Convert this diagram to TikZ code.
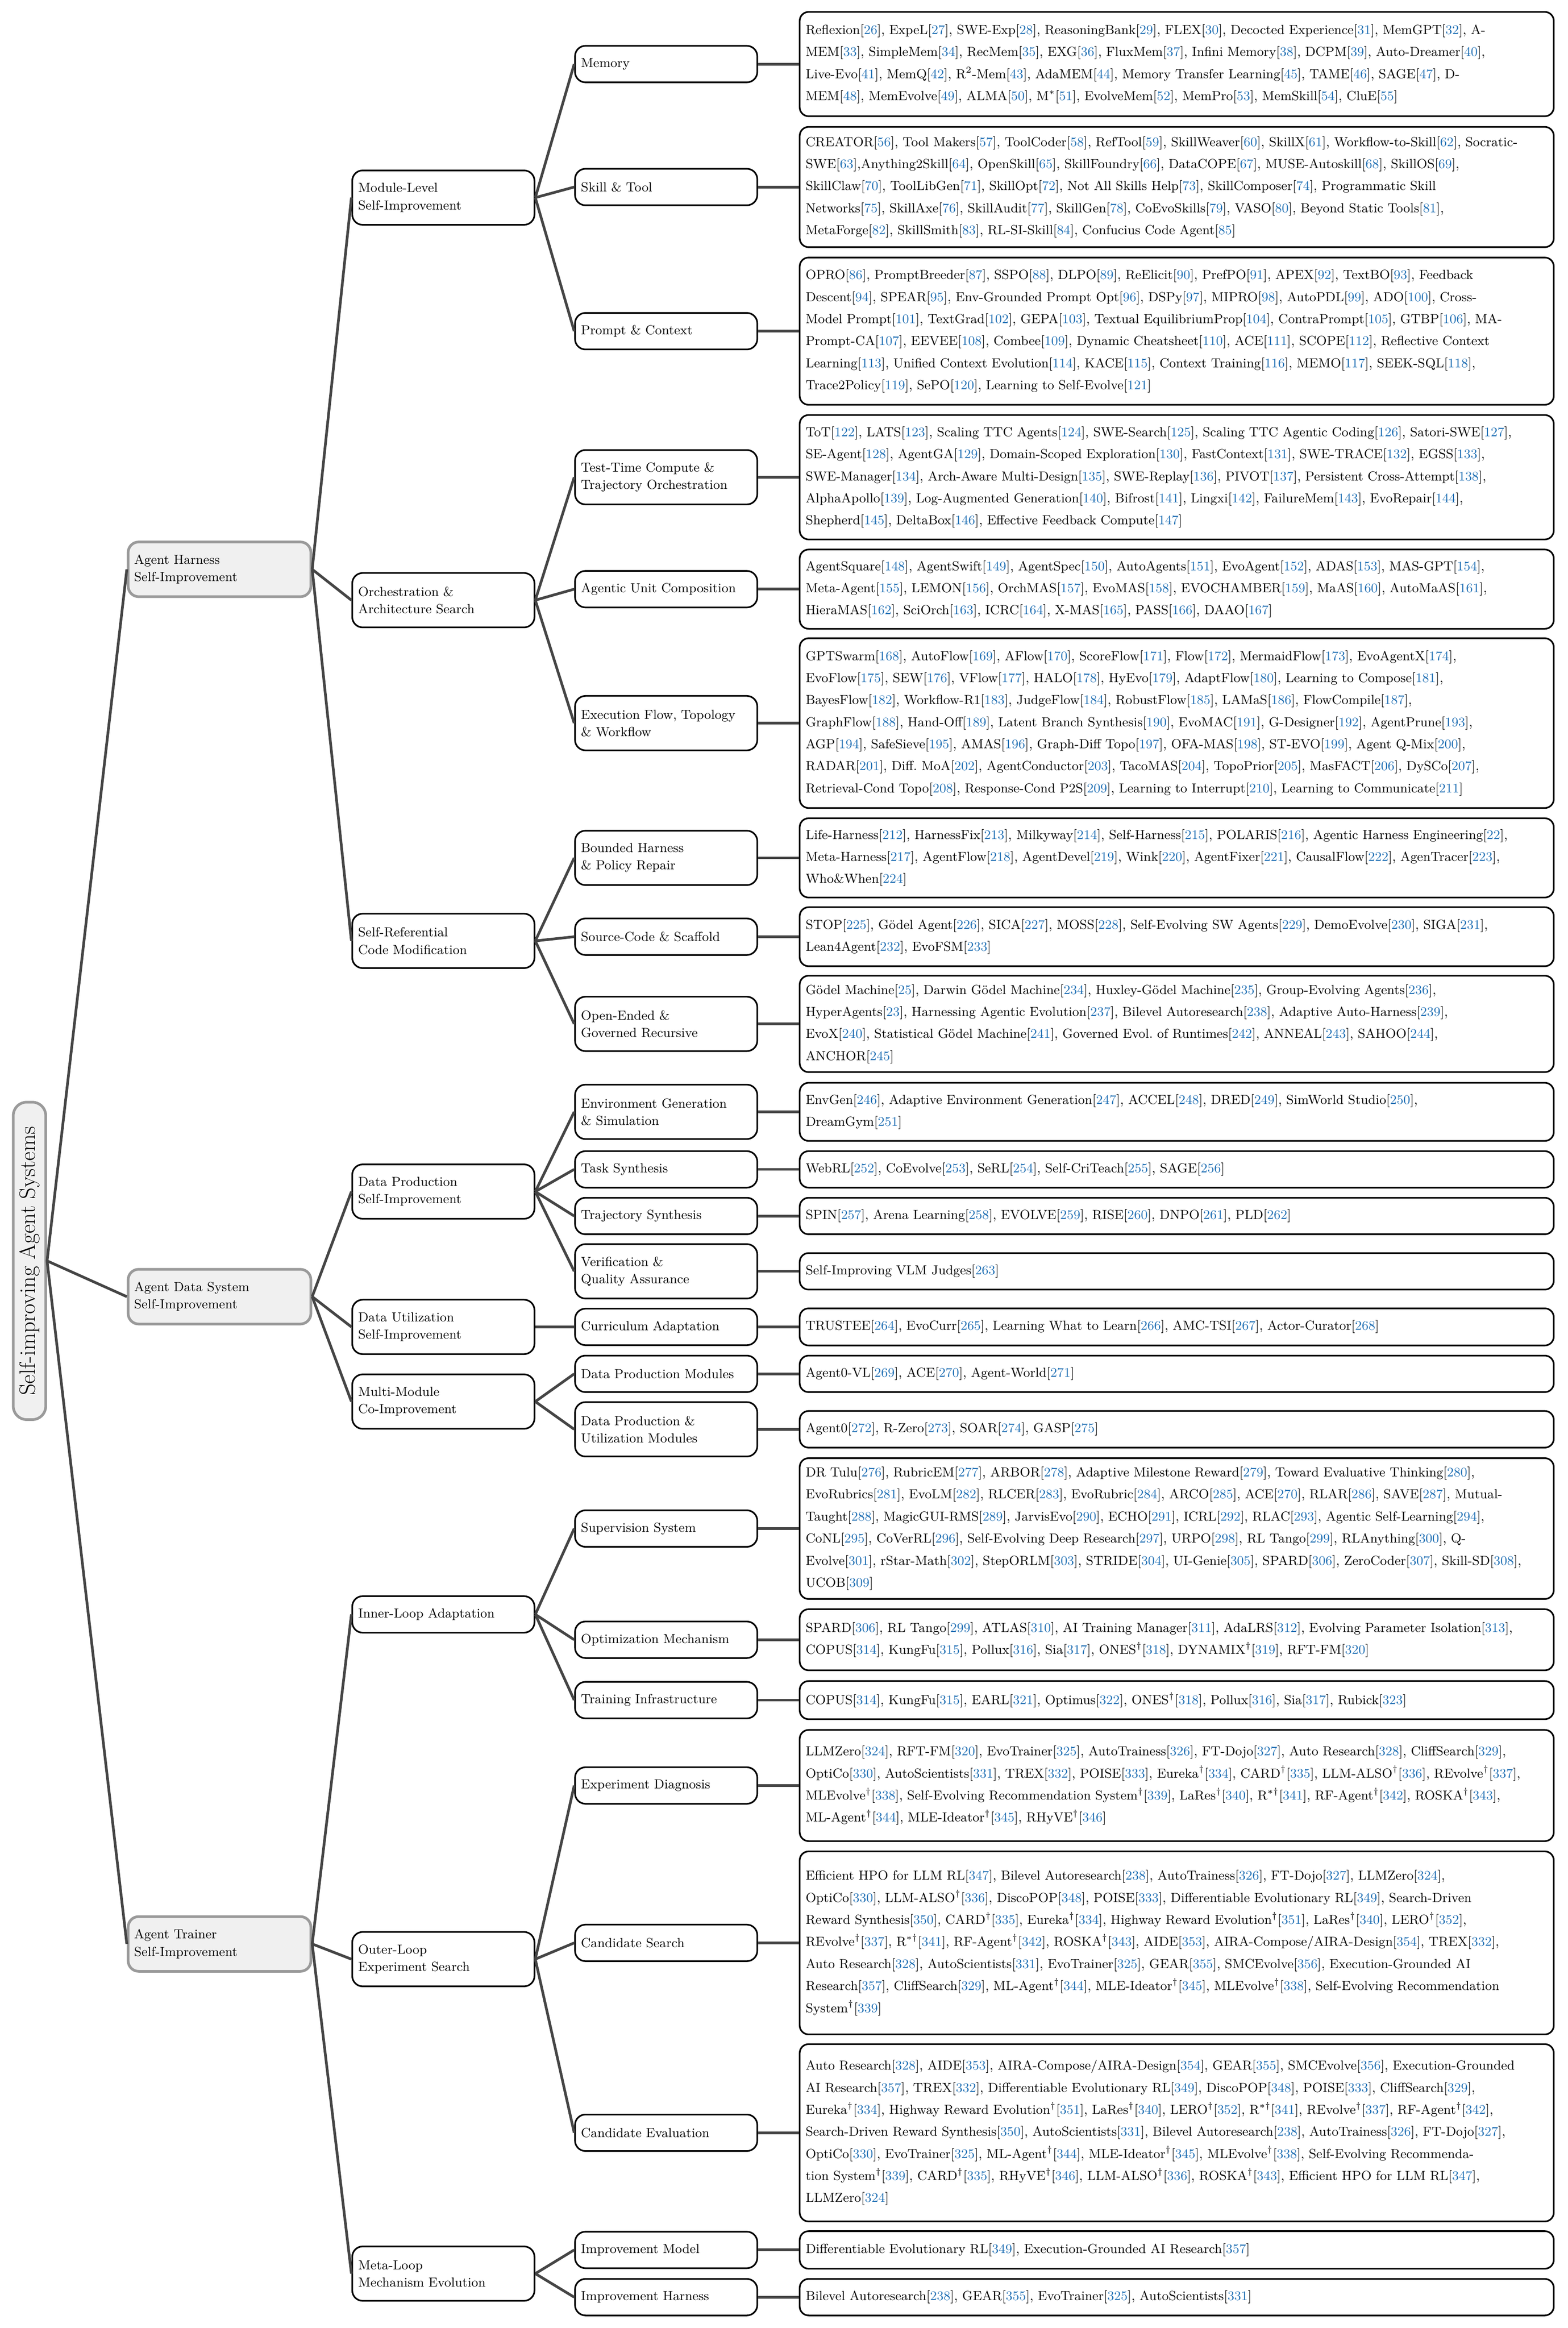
\documentclass[tikz,border=0pt]{standalone}
\usepackage{amsmath}
\usepackage{amssymb}
\usepackage{tikz}

\definecolor{edgegray}{HTML}{454545}
\definecolor{rootgray}{HTML}{9A9A9A}
\definecolor{rootfill}{HTML}{F0F0F0}
\definecolor{citeblue}{HTML}{1F6FB4}

\newcommand{\citeno}[1]{[\textcolor{citeblue}{#1}]}
\newcommand{\dagmark}{$^{\dagger}$}
\newcommand{\labelfnt}{\fontsize{8.8}{11.6}\selectfont}
\newcommand{\leaffnt}{\fontsize{8.8}{14.8}\selectfont}

\begin{document}
\begin{tikzpicture}[
    x = 1pt, y = -1pt,
    rootbox/.style = {
      draw = rootgray, fill = rootfill, line width = 1.8pt,
      rounded corners = 9pt, rotate = 90,
      minimum width = 213pt, minimum height = 21.8pt, inner sep = 0pt,
      font = \fontsize{15}{18}\selectfont,
    },
    mainbox/.style = {
      draw = rootgray, fill = rootfill, line width = 1.8pt,
      rounded corners = 7pt, text width = 114.6pt, inner xsep = 4pt,
      minimum height = 36.7pt, align = left, font = \labelfnt,
    },
    subbox/.style = {
      draw = black, fill = white, line width = 1.1pt,
      rounded corners = 7pt, text width = 114.3pt, inner xsep = 4pt,
      minimum height = 24.5pt, align = left, font = \labelfnt,
    },
    dbl/.style = {minimum height = 36.5pt},
    leafbox/.style = {
      draw = black, fill = white, line width = 1.1pt,
      rounded corners = 6pt, text width = 498pt, inner xsep = 4pt,
      align = left, font = \leaffnt,
    },
  ]
  \useasboundingbox (0,0) rectangle (1052,1562);

  % root and first level
  \node[rootbox] (sias) at (19.8,846) {Self-improving Agent Systems};

  \node[mainbox] (ahsi) at (147.3,382) {Agent Harness\\Self-Improvement};
  \node[mainbox] (adsi) at (147.3,870) {Agent Data System\\Self-Improvement};
  \node[mainbox] (atsi) at (147.3,1304.3) {Agent Trainer\\Self-Improvement};

  % second level
  \node[subbox, dbl] (mlsi) at (297.5,132.6) {Module-Level\\Self-Improvement};
  \node[subbox, dbl] (oas)  at (297.5,402.7) {Orchestration \&\\Architecture Search};
  \node[subbox, dbl] (srcm) at (297.5,631.3) {Self-Referential\\Code Modification};
  \node[subbox, dbl] (dpsi) at (297.5,799.5) {Data Production\\Self-Improvement};
  \node[subbox, dbl] (dusi) at (297.5,890.3) {Data Utilization\\Self-Improvement};
  \node[subbox, dbl] (mmci) at (297.5,940.4) {Multi-Module\\Co-Improvement};
  \node[subbox]      (ila)  at (297.5,1083.2) {Inner-Loop Adaptation};
  \node[subbox, dbl] (oles) at (297.5,1314.5) {Outer-Loop\\Experiment Search};
  \node[subbox, dbl] (mlme) at (297.5,1525.5) {Meta-Loop\\Mechanism Evolution};

  % third level
  \node[subbox]      (mem) at (447,43)     {Memory};
  \node[subbox]      (skl) at (447,125.5)  {Skill \& Tool};
  \node[subbox]      (pc)  at (447,222.2)  {Prompt \& Context};
  \node[subbox, dbl] (ttc) at (447,320.2)  {Test-Time Compute \&\\Trajectory Orchestration};
  \node[subbox]      (auc) at (447,395.3)  {Agentic Unit Composition};
  \node[subbox, dbl] (eft) at (447,485.2)  {Execution Flow, Topology\\\& Workflow};
  \node[subbox, dbl] (bhp) at (447,575.6)  {Bounded Harness\\\& Policy Repair};
  \node[subbox]      (scs) at (447,628.5)  {Source-Code \& Scaffold};
  \node[subbox, dbl] (oer) at (447,687)    {Open-Ended \&\\Governed Recursive};
  \node[subbox, dbl] (egs) at (447,746)    {Environment Generation\\\& Simulation};
  \node[subbox]      (ts)  at (447,784.6)  {Task Synthesis};
  \node[subbox]      (trs) at (447,815.9)  {Trajectory Synthesis};
  \node[subbox, dbl] (vqa) at (447,853)    {Verification \&\\Quality Assurance};
  \node[subbox]      (ca)  at (447,890.3)  {Curriculum Adaptation};
  \node[subbox]      (dpm) at (447,921.8)  {Data Production Modules};
  \node[subbox, dbl] (dpu) at (447,959)    {Data Production \&\\Utilization Modules};
  \node[subbox]      (ss)  at (447,1025.6) {Supervision System};
  \node[subbox]      (om)  at (447,1100.2) {Optimization Mechanism};
  \node[subbox]      (ti)  at (447,1140.7) {Training Infrastructure};
  \node[subbox]      (ed)  at (447,1198)   {Experiment Diagnosis};
  \node[subbox]      (cs)  at (447,1303.6) {Candidate Search};
  \node[subbox]      (ce)  at (447,1431)   {Candidate Evaluation};
  \node[subbox]      (im)  at (447,1509.6) {Improvement Model};
  \node[subbox]      (ih)  at (447,1541.3) {Improvement Harness};

  % reference lists
  \node[leafbox, minimum height = 70pt] (memL) at (789.6,43) {%
    Reflexion\citeno{26}, ExpeL\citeno{27}, SWE-Exp\citeno{28}, ReasoningBank\citeno{29}, FLEX\citeno{30}, Decocted Experience\citeno{31}, MemGPT\citeno{32}, A-\\
    MEM\citeno{33}, SimpleMem\citeno{34}, RecMem\citeno{35}, EXG\citeno{36}, FluxMem\citeno{37}, Infini Memory\citeno{38}, DCPM\citeno{39}, Auto-Dreamer\citeno{40},\\
    Live-Evo\citeno{41}, MemQ\citeno{42}, R$^2$-Mem\citeno{43}, AdaMEM\citeno{44}, Memory Transfer Learning\citeno{45}, TAME\citeno{46}, SAGE\citeno{47}, D-\\
    MEM\citeno{48}, MemEvolve\citeno{49}, ALMA\citeno{50}, M$^*$\citeno{51}, EvolveMem\citeno{52}, MemPro\citeno{53}, MemSkill\citeno{54}, CluE\citeno{55}};
  \node[leafbox, minimum height = 80.7pt] (sklL) at (789.6,125.5) {%
    CREATOR\citeno{56}, Tool Makers\citeno{57}, ToolCoder\citeno{58}, RefTool\citeno{59}, SkillWeaver\citeno{60}, SkillX\citeno{61}, Workflow-to-Skill\citeno{62}, Socratic-\\
    SWE\citeno{63},Anything2Skill\citeno{64}, OpenSkill\citeno{65}, SkillFoundry\citeno{66}, DataCOPE\citeno{67}, MUSE-Autoskill\citeno{68}, SkillOS\citeno{69},\\
    SkillClaw\citeno{70}, ToolLibGen\citeno{71}, SkillOpt\citeno{72}, Not All Skills Help\citeno{73}, SkillComposer\citeno{74}, Programmatic Skill\\
    Networks\citeno{75}, SkillAxe\citeno{76}, SkillAudit\citeno{77}, SkillGen\citeno{78}, CoEvoSkills\citeno{79}, VASO\citeno{80}, Beyond Static Tools\citeno{81},\\
    MetaForge\citeno{82}, SkillSmith\citeno{83}, RL-SI-Skill\citeno{84}, Confucius Code Agent\citeno{85}};
  \node[leafbox, minimum height = 98.8pt] (pcL) at (789.6,222.2) {%
    OPRO\citeno{86}, PromptBreeder\citeno{87}, SSPO\citeno{88}, DLPO\citeno{89}, ReElicit\citeno{90}, PrefPO\citeno{91}, APEX\citeno{92}, TextBO\citeno{93}, Feedback\\
    Descent\citeno{94}, SPEAR\citeno{95}, Env-Grounded Prompt Opt\citeno{96}, DSPy\citeno{97}, MIPRO\citeno{98}, AutoPDL\citeno{99}, ADO\citeno{100}, Cross-\\
    Model Prompt\citeno{101}, TextGrad\citeno{102}, GEPA\citeno{103}, Textual EquilibriumProp\citeno{104}, ContraPrompt\citeno{105}, GTBP\citeno{106}, MA-\\
    Prompt-CA\citeno{107}, EEVEE\citeno{108}, Combee\citeno{109}, Dynamic Cheatsheet\citeno{110}, ACE\citeno{111}, SCOPE\citeno{112}, Reflective Context\\
    Learning\citeno{113}, Unified Context Evolution\citeno{114}, KACE\citeno{115}, Context Training\citeno{116}, MEMO\citeno{117}, SEEK-SQL\citeno{118},\\
    Trace2Policy\citeno{119}, SePO\citeno{120}, Learning to Self-Evolve\citeno{121}};
  \node[leafbox, minimum height = 83.5pt] (ttcL) at (789.6,320.2) {%
    ToT\citeno{122}, LATS\citeno{123}, Scaling TTC Agents\citeno{124}, SWE-Search\citeno{125}, Scaling TTC Agentic Coding\citeno{126}, Satori-SWE\citeno{127},\\
    SE-Agent\citeno{128}, AgentGA\citeno{129}, Domain-Scoped Exploration\citeno{130}, FastContext\citeno{131}, SWE-TRACE\citeno{132}, EGSS\citeno{133},\\
    SWE-Manager\citeno{134}, Arch-Aware Multi-Design\citeno{135}, SWE-Replay\citeno{136}, PIVOT\citeno{137}, Persistent Cross-Attempt\citeno{138},\\
    AlphaApollo\citeno{139}, Log-Augmented Generation\citeno{140}, Bifrost\citeno{141}, Lingxi\citeno{142}, FailureMem\citeno{143}, EvoRepair\citeno{144},\\
    Shepherd\citeno{145}, DeltaBox\citeno{146}, Effective Feedback Compute\citeno{147}};
  \node[leafbox, minimum height = 53.2pt] (aucL) at (789.6,395.3) {%
    AgentSquare\citeno{148}, AgentSwift\citeno{149}, AgentSpec\citeno{150}, AutoAgents\citeno{151}, EvoAgent\citeno{152}, ADAS\citeno{153}, MAS-GPT\citeno{154},\\
    Meta-Agent\citeno{155}, LEMON\citeno{156}, OrchMAS\citeno{157}, EvoMAS\citeno{158}, EVOCHAMBER\citeno{159}, MaAS\citeno{160}, AutoMaAS\citeno{161},\\
    HieraMAS\citeno{162}, SciOrch\citeno{163}, ICRC\citeno{164}, X-MAS\citeno{165}, PASS\citeno{166}, DAAO\citeno{167}};
  \node[leafbox, minimum height = 113.9pt] (eftL) at (789.6,485.2) {%
    GPTSwarm\citeno{168}, AutoFlow\citeno{169}, AFlow\citeno{170}, ScoreFlow\citeno{171}, Flow\citeno{172}, MermaidFlow\citeno{173}, EvoAgentX\citeno{174},\\
    EvoFlow\citeno{175}, SEW\citeno{176}, VFlow\citeno{177}, HALO\citeno{178}, HyEvo\citeno{179}, AdaptFlow\citeno{180}, Learning to Compose\citeno{181},\\
    BayesFlow\citeno{182}, Workflow-R1\citeno{183}, JudgeFlow\citeno{184}, RobustFlow\citeno{185}, LAMaS\citeno{186}, FlowCompile\citeno{187},\\
    GraphFlow\citeno{188}, Hand-Off\citeno{189}, Latent Branch Synthesis\citeno{190}, EvoMAC\citeno{191}, G-Designer\citeno{192}, AgentPrune\citeno{193},\\
    AGP\citeno{194}, SafeSieve\citeno{195}, AMAS\citeno{196}, Graph-Diff Topo\citeno{197}, OFA-MAS\citeno{198}, ST-EVO\citeno{199}, Agent Q-Mix\citeno{200},\\
    RADAR\citeno{201}, Diff.\ MoA\citeno{202}, AgentConductor\citeno{203}, TacoMAS\citeno{204}, TopoPrior\citeno{205}, MasFACT\citeno{206}, DySCo\citeno{207},\\
    Retrieval-Cond Topo\citeno{208}, Response-Cond P2S\citeno{209}, Learning to Interrupt\citeno{210}, Learning to Communicate\citeno{211}};
  \node[leafbox, minimum height = 53.2pt] (bhpL) at (789.6,575.6) {%
    Life-Harness\citeno{212}, HarnessFix\citeno{213}, Milkyway\citeno{214}, Self-Harness\citeno{215}, POLARIS\citeno{216}, Agentic Harness Engineering\citeno{22},\\
    Meta-Harness\citeno{217}, AgentFlow\citeno{218}, AgentDevel\citeno{219}, Wink\citeno{220}, AgentFixer\citeno{221}, CausalFlow\citeno{222}, AgenTracer\citeno{223},\\
    Who\&When\citeno{224}};
  \node[leafbox, minimum height = 39.6pt] (scsL) at (789.6,628.5) {%
    STOP\citeno{225}, Gödel Agent\citeno{226}, SICA\citeno{227}, MOSS\citeno{228}, Self-Evolving SW Agents\citeno{229}, DemoEvolve\citeno{230}, SIGA\citeno{231},\\
    Lean4Agent\citeno{232}, EvoFSM\citeno{233}};
  \node[leafbox, minimum height = 64.7pt] (oerL) at (789.6,687) {%
    Gödel Machine\citeno{25}, Darwin Gödel Machine\citeno{234}, Huxley-Gödel Machine\citeno{235}, Group-Evolving Agents\citeno{236},\\
    HyperAgents\citeno{23}, Harnessing Agentic Evolution\citeno{237}, Bilevel Autoresearch\citeno{238}, Adaptive Auto-Harness\citeno{239},\\
    EvoX\citeno{240}, Statistical Gödel Machine\citeno{241}, Governed Evol.\ of Runtimes\citeno{242}, ANNEAL\citeno{243}, SAHOO\citeno{244},\\
    ANCHOR\citeno{245}};
  \node[leafbox, minimum height = 39pt] (egsL) at (789.6,746) {%
    EnvGen\citeno{246}, Adaptive Environment Generation\citeno{247}, ACCEL\citeno{248}, DRED\citeno{249}, SimWorld Studio\citeno{250},\\
    DreamGym\citeno{251}};
  \node[leafbox, minimum height = 24.5pt] (tsL) at (789.6,784.6) {%
    WebRL\citeno{252}, CoEvolve\citeno{253}, SeRL\citeno{254}, Self-CriTeach\citeno{255}, SAGE\citeno{256}};
  \node[leafbox, minimum height = 24.5pt] (trsL) at (789.6,815.9) {%
    SPIN\citeno{257}, Arena Learning\citeno{258}, EVOLVE\citeno{259}, RISE\citeno{260}, DNPO\citeno{261}, PLD\citeno{262}};
  \node[leafbox, minimum height = 24.5pt] (vqaL) at (789.6,853) {%
    Self-Improving VLM Judges\citeno{263}};
  \node[leafbox, minimum height = 24.9pt] (caL) at (789.6,890.3) {%
    TRUSTEE\citeno{264}, EvoCurr\citeno{265}, Learning What to Learn\citeno{266}, AMC-TSI\citeno{267}, Actor-Curator\citeno{268}};
  \node[leafbox, minimum height = 24.5pt] (dpmL) at (789.6,921.8) {%
    Agent0-VL\citeno{269}, ACE\citeno{270}, Agent-World\citeno{271}};
  \node[leafbox, minimum height = 24.6pt] (dpuL) at (789.6,959) {%
    Agent0\citeno{272}, R-Zero\citeno{273}, SOAR\citeno{274}, GASP\citeno{275}};
  \node[leafbox, minimum height = 94.5pt] (ssL) at (789.6,1025.6) {%
    DR Tulu\citeno{276}, RubricEM\citeno{277}, ARBOR\citeno{278}, Adaptive Milestone Reward\citeno{279}, Toward Evaluative Thinking\citeno{280},\\
    EvoRubrics\citeno{281}, EvoLM\citeno{282}, RLCER\citeno{283}, EvoRubric\citeno{284}, ARCO\citeno{285}, ACE\citeno{270}, RLAR\citeno{286}, SAVE\citeno{287}, Mutual-\\
    Taught\citeno{288}, MagicGUI-RMS\citeno{289}, JarvisEvo\citeno{290}, ECHO\citeno{291}, ICRL\citeno{292}, RLAC\citeno{293}, Agentic Self-Learning\citeno{294},\\
    CoNL\citeno{295}, CoVerRL\citeno{296}, Self-Evolving Deep Research\citeno{297}, URPO\citeno{298}, RL Tango\citeno{299}, RLAnything\citeno{300}, Q-\\
    Evolve\citeno{301}, rStar-Math\citeno{302}, StepORLM\citeno{303}, STRIDE\citeno{304}, UI-Genie\citeno{305}, SPARD\citeno{306}, ZeroCoder\citeno{307}, Skill-SD\citeno{308},\\
    UCOB\citeno{309}};
  \node[leafbox, minimum height = 41pt] (omL) at (789.6,1100.2) {%
    SPARD\citeno{306}, RL Tango\citeno{299}, ATLAS\citeno{310}, AI Training Manager\citeno{311}, AdaLRS\citeno{312}, Evolving Parameter Isolation\citeno{313},\\
    COPUS\citeno{314}, KungFu\citeno{315}, Pollux\citeno{316}, Sia\citeno{317}, ONES\dagmark\citeno{318}, DYNAMIX\dagmark\citeno{319}, RFT-FM\citeno{320}};
  \node[leafbox, minimum height = 25.6pt] (tiL) at (789.6,1140.7) {%
    COPUS\citeno{314}, KungFu\citeno{315}, EARL\citeno{321}, Optimus\citeno{322}, ONES\dagmark\citeno{318}, Pollux\citeno{316}, Sia\citeno{317}, Rubick\citeno{323}};
  \node[leafbox, minimum height = 74.6pt] (edL) at (789.6,1198) {%
    LLMZero\citeno{324}, RFT-FM\citeno{320}, EvoTrainer\citeno{325}, AutoTrainess\citeno{326}, FT-Dojo\citeno{327}, Auto Research\citeno{328}, CliffSearch\citeno{329},\\
    OptiCo\citeno{330}, AutoScientists\citeno{331}, TREX\citeno{332}, POISE\citeno{333}, Eureka\dagmark\citeno{334}, CARD\dagmark\citeno{335}, LLM-ALSO\dagmark\citeno{336}, REvolve\dagmark\citeno{337},\\
    MLEvolve\dagmark\citeno{338}, Self-Evolving Recommendation System\dagmark\citeno{339}, LaRes\dagmark\citeno{340}, R$^{*\dagger}$\citeno{341}, RF-Agent\dagmark\citeno{342}, ROSKA\dagmark\citeno{343},\\
    ML-Agent\dagmark\citeno{344}, MLE-Ideator\dagmark\citeno{345}, RHyVE\dagmark\citeno{346}};
  \node[leafbox, minimum height = 122.8pt] (csL) at (789.6,1303.6) {%
    Efficient HPO for LLM RL\citeno{347}, Bilevel Autoresearch\citeno{238}, AutoTrainess\citeno{326}, FT-Dojo\citeno{327}, LLMZero\citeno{324},\\
    OptiCo\citeno{330}, LLM-ALSO\dagmark\citeno{336}, DiscoPOP\citeno{348}, POISE\citeno{333}, Differentiable Evolutionary RL\citeno{349}, Search-Driven\\
    Reward Synthesis\citeno{350}, CARD\dagmark\citeno{335}, Eureka\dagmark\citeno{334}, Highway Reward Evolution\dagmark\citeno{351}, LaRes\dagmark\citeno{340}, LERO\dagmark\citeno{352},\\
    REvolve\dagmark\citeno{337}, R$^{*\dagger}$\citeno{341}, RF-Agent\dagmark\citeno{342}, ROSKA\dagmark\citeno{343}, AIDE\citeno{353}, AIRA-Compose/AIRA-Design\citeno{354}, TREX\citeno{332},\\
    Auto Research\citeno{328}, AutoScientists\citeno{331}, EvoTrainer\citeno{325}, GEAR\citeno{355}, SMCEvolve\citeno{356}, Execution-Grounded AI\\
    Research\citeno{357}, CliffSearch\citeno{329}, ML-Agent\dagmark\citeno{344}, MLE-Ideator\dagmark\citeno{345}, MLEvolve\dagmark\citeno{338}, Self-Evolving Recommendation\\
    System\dagmark\citeno{339}};
  \node[leafbox, minimum height = 119pt] (ceL) at (789.6,1431) {%
    Auto Research\citeno{328}, AIDE\citeno{353}, AIRA-Compose/AIRA-Design\citeno{354}, GEAR\citeno{355}, SMCEvolve\citeno{356}, Execution-Grounded\\
    AI Research\citeno{357}, TREX\citeno{332}, Differentiable Evolutionary RL\citeno{349}, DiscoPOP\citeno{348}, POISE\citeno{333}, CliffSearch\citeno{329},\\
    Eureka\dagmark\citeno{334}, Highway Reward Evolution\dagmark\citeno{351}, LaRes\dagmark\citeno{340}, LERO\dagmark\citeno{352}, R$^{*\dagger}$\citeno{341}, REvolve\dagmark\citeno{337}, RF-Agent\dagmark\citeno{342},\\
    Search-Driven Reward Synthesis\citeno{350}, AutoScientists\citeno{331}, Bilevel Autoresearch\citeno{238}, AutoTrainess\citeno{326}, FT-Dojo\citeno{327},\\
    OptiCo\citeno{330}, EvoTrainer\citeno{325}, ML-Agent\dagmark\citeno{344}, MLE-Ideator\dagmark\citeno{345}, MLEvolve\dagmark\citeno{338}, Self-Evolving Recommenda-\\
    tion System\dagmark\citeno{339}, CARD\dagmark\citeno{335}, RHyVE\dagmark\citeno{346}, LLM-ALSO\dagmark\citeno{336}, ROSKA\dagmark\citeno{343}, Efficient HPO for LLM RL\citeno{347},\\
    LLMZero\citeno{324}};
  \node[leafbox, minimum height = 25.2pt] (imL) at (789.6,1509.6) {%
    Differentiable Evolutionary RL\citeno{349}, Execution-Grounded AI Research\citeno{357}};
  \node[leafbox, minimum height = 24.5pt] (ihL) at (789.6,1541.3) {%
    Bilevel Autoresearch\citeno{238}, GEAR\citeno{355}, EvoTrainer\citeno{325}, AutoScientists\citeno{331}};

  \begin{scope}[line width = 1.8pt, edgegray]
    % root to first level (rotated root: south is its right side)
    \draw (sias.south) -- (ahsi.west);
    \draw (sias.south) -- (adsi.west);
    \draw (sias.south) -- (atsi.west);
    % first to second level
    \draw (ahsi.east) -- (mlsi.west);
    \draw (ahsi.east) -- (oas.west);
    \draw (ahsi.east) -- (srcm.west);
    \draw (adsi.east) -- (dpsi.west);
    \draw (adsi.east) -- (dusi.west);
    \draw (adsi.east) -- (mmci.west);
    \draw (atsi.east) -- (ila.west);
    \draw (atsi.east) -- (oles.west);
    \draw (atsi.east) -- (mlme.west);
    % second to third level
    \draw (mlsi.east) -- (mem.west);
    \draw (mlsi.east) -- (skl.west);
    \draw (mlsi.east) -- (pc.west);
    \draw (oas.east) -- (ttc.west);
    \draw (oas.east) -- (auc.west);
    \draw (oas.east) -- (eft.west);
    \draw (srcm.east) -- (bhp.west);
    \draw (srcm.east) -- (scs.west);
    \draw (srcm.east) -- (oer.west);
    \draw (dpsi.east) -- (egs.west);
    \draw (dpsi.east) -- (ts.west);
    \draw (dpsi.east) -- (trs.west);
    \draw (dpsi.east) -- (vqa.west);
    \draw (dusi.east) -- (ca.west);
    \draw (mmci.east) -- (dpm.west);
    \draw (mmci.east) -- (dpu.west);
    \draw (ila.east) -- (ss.west);
    \draw (ila.east) -- (om.west);
    \draw (ila.east) -- (ti.west);
    \draw (oles.east) -- (ed.west);
    \draw (oles.east) -- (cs.west);
    \draw (oles.east) -- (ce.west);
    \draw (mlme.east) -- (im.west);
    \draw (mlme.east) -- (ih.west);
    % third level to reference lists
    \draw (mem.east) -- (memL.west);
    \draw (skl.east) -- (sklL.west);
    \draw (pc.east)  -- (pcL.west);
    \draw (ttc.east) -- (ttcL.west);
    \draw (auc.east) -- (aucL.west);
    \draw (eft.east) -- (eftL.west);
    \draw (bhp.east) -- (bhpL.west);
    \draw (scs.east) -- (scsL.west);
    \draw (oer.east) -- (oerL.west);
    \draw (egs.east) -- (egsL.west);
    \draw (ts.east)  -- (tsL.west);
    \draw (trs.east) -- (trsL.west);
    \draw (vqa.east) -- (vqaL.west);
    \draw (ca.east)  -- (caL.west);
    \draw (dpm.east) -- (dpmL.west);
    \draw (dpu.east) -- (dpuL.west);
    \draw (ss.east)  -- (ssL.west);
    \draw (om.east)  -- (omL.west);
    \draw (ti.east)  -- (tiL.west);
    \draw (ed.east)  -- (edL.west);
    \draw (cs.east)  -- (csL.west);
    \draw (ce.east)  -- (ceL.west);
    \draw (im.east)  -- (imL.west);
    \draw (ih.east)  -- (ihL.west);
  \end{scope}
\end{tikzpicture}
\end{document}
